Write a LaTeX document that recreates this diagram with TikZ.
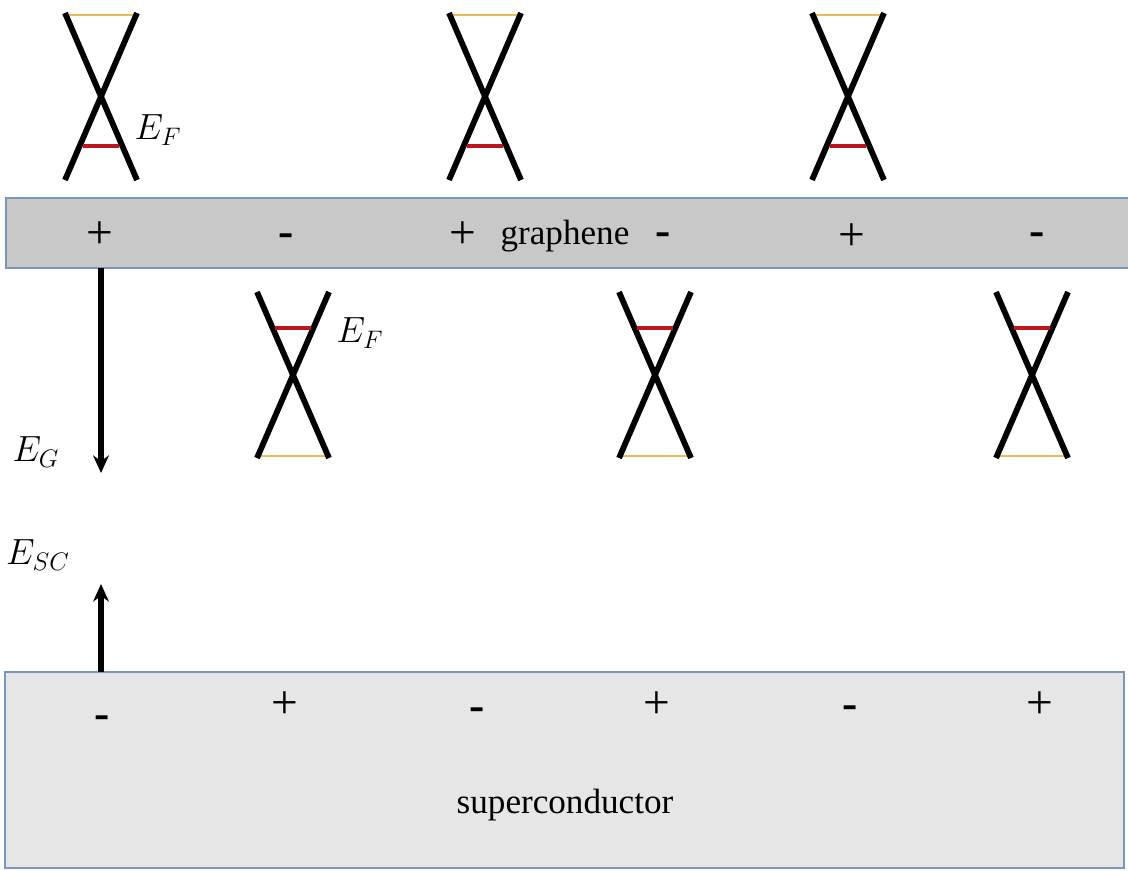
\documentclass[tikz,border=0pt]{standalone}
\usepackage{fontspec}
\setmainfont{Liberation Serif}
\usetikzlibrary{arrows.meta}

\definecolor{grfill}{RGB}{200,200,200}
\definecolor{scfill}{RGB}{230,230,230}
\definecolor{edgeblue}{RGB}{120,150,190}
\definecolor{fermired}{RGB}{190,20,30}
\definecolor{bandgold}{RGB}{235,185,90}

\tikzset{
  cone/.style={line width=3.3pt},
  fermi/.style={fermired, line width=2.6pt},
  bandedge/.style={bandgold, line width=0.9pt},
  layer/.style={draw=edgeblue, line width=0.8pt},
  charge/.style={font=\fontsize{27}{30}\selectfont},
  minus/.style={font=\fontsize{26}{30}\selectfont\bfseries},
  lbl/.style={font=\fontsize{20}{24}\selectfont},
  field/.style={-{Stealth[length=10pt,width=9pt]}, line width=2.9pt}
}

\begin{document}
\begin{tikzpicture}[x=0.02cm, y=-0.02cm]

    \useasboundingbox (0,0) rectangle (1128,871);
    \clip (0,0) rectangle (1128,871);

    % Layers
    \draw[layer, fill=grfill] (6,198) rectangle (1140,268);
    \draw[layer, fill=scfill] (5,672) rectangle (1124,868);
    \node[lbl] (graphene) at (565,236) {graphene};
    \node[lbl] (sc) at (565,805) {superconductor};

    % Charges in graphene
    \node[charge] (gp1) at (100,235) {+};
    \node[minus]  (gm1) at (286,240) {-};
    \node[charge] (gp2) at (463,235) {+};
    \node[minus]  (gm2) at (663,239) {-};
    \node[charge] (gp3) at (852,237) {+};
    \node[minus]  (gm3) at (1037,239) {-};

    % Charges in superconductor
    \node[minus]  (sm1) at (102,722) {-};
    \node[charge] (sp1) at (285,705) {+};
    \node[minus]  (sm2) at (477,714) {-};
    \node[charge] (sp2) at (657,705) {+};
    \node[minus]  (sm3) at (850,712) {-};
    \node[charge] (sp3) at (1040,705) {+};

    % Dirac cones above graphene
    \foreach \cx in {101,485,848} {
        \draw[bandedge] (\cx-34,15) -- (\cx+34,15);
        \draw[cone] (\cx-36,13) -- (\cx+36,180);
        \draw[cone] (\cx+36,13) -- (\cx-36,180);
        \draw[fermi] (\cx-18,146) -- (\cx+18,146);
    }
    \node[lbl] (ef1) at (158,130) {$E_F$};

    % Dirac cones below graphene
    \foreach \cx in {293,655,1032} {
        \draw[bandedge] (\cx-34,456) -- (\cx+34,456);
        \draw[cone] (\cx-36,292) -- (\cx+36,458);
        \draw[cone] (\cx+36,292) -- (\cx-36,458);
        \draw[fermi] (\cx-18,328) -- (\cx+18,328);
    }
    \node[lbl] (ef2) at (360,333) {$E_F$};

    % Fields
    \coordinate (gtop) at (101,268);
    \coordinate (gtip) at (101,473);
    \draw[field] (gtop) -- (gtip);
    \node[lbl] (eg) at (36,452) {$E_G$};

    \coordinate (sbot) at (101,672);
    \coordinate (stip) at (101,584);
    \draw[field] (sbot) -- (stip);
    \node[lbl] (esc) at (38,555) {$E_{SC}$};

\end{tikzpicture}
\end{document}
